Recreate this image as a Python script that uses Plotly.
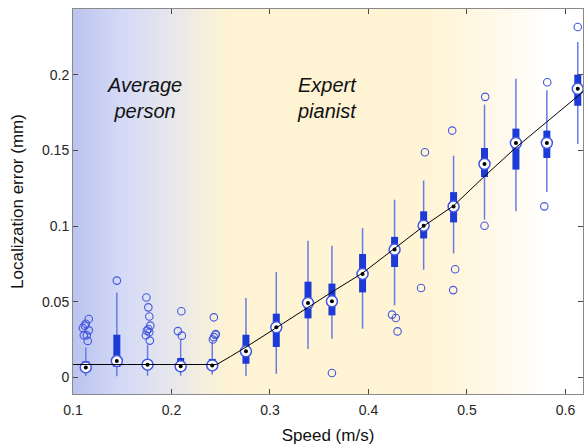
import plotly.graph_objects as go

# Speed groups (m/s) and box statistics of localization error (mm)
speed = [0.113, 0.1445, 0.1757, 0.2093, 0.2414, 0.2756, 0.3064, 0.3386, 0.3629,
         0.394, 0.4265, 0.456, 0.4864, 0.5178, 0.5497, 0.5811, 0.6125]
whisker_low = [0.0007, 0.0007, 0.0011, 0.0011, 0.0018, 0.0009, 0.0024, 0.0188, 0.0256,
               0.0322, 0.0476, 0.0712, 0.0820, 0.1043, 0.1098, 0.1226, 0.1544]
q1 = [0.0040, 0.0069, 0.0062, 0.0051, 0.0058, 0.0090, 0.0201, 0.0390, 0.0410,
      0.0562, 0.0730, 0.0919, 0.1025, 0.1325, 0.1374, 0.1451, 0.1796]
median = [0.0066, 0.0108, 0.0084, 0.0073, 0.0079, 0.0172, 0.0331, 0.0492, 0.0503,
          0.0684, 0.0845, 0.1003, 0.1130, 0.1411, 0.1550, 0.1550, 0.1908]
q3 = [0.0106, 0.0282, 0.0106, 0.0128, 0.0122, 0.0282, 0.0421, 0.0633, 0.0620,
      0.0816, 0.0929, 0.1098, 0.1225, 0.1517, 0.1645, 0.1632, 0.2002]
whisker_high = [0.0198, 0.0562, 0.0216, 0.0250, 0.0238, 0.0525, 0.0697, 0.0904, 0.0871,
                0.0988, 0.1175, 0.1302, 0.1466, 0.1804, 0.1974, 0.1898, 0.2218]

# Outliers (jittered speed, error)
outlier_speed = [0.1160, 0.1130, 0.1100, 0.1120, 0.1160, 0.1110, 0.1140, 0.1150,
                 0.1445,
                 0.1745, 0.1765, 0.1775, 0.1785, 0.1765, 0.1750, 0.1775, 0.1740, 0.1780,
                 0.2100, 0.2065, 0.2105,
                 0.2430, 0.2450, 0.2445, 0.2430, 0.2420,
                 0.3629,
                 0.4239, 0.4278, 0.4295,
                 0.4534, 0.4573,
                 0.4850, 0.4880, 0.4860,
                 0.5185, 0.5178,
                 0.5815, 0.5785,
                 0.6125]
outlier_error = [0.0386, 0.0355, 0.0327, 0.0342, 0.0311, 0.0278, 0.0278, 0.0241,
                 0.0640,
                 0.0528, 0.0463, 0.0403, 0.0342, 0.0320, 0.0309, 0.0298, 0.0279, 0.0243,
                 0.0437, 0.0306, 0.0276,
                 0.0397, 0.0287, 0.0280, 0.0266, 0.0250,
                 0.0029,
                 0.0415, 0.0393, 0.0304,
                 0.0591, 0.1489,
                 0.1632, 0.0715, 0.0577,
                 0.1855, 0.1003,
                 0.1952, 0.1131,
                 0.2317]

# Fitted trend of the error against speed
fit_speed = [0.100, 0.246, 0.2596, 0.2756, 0.3064, 0.3386, 0.3630, 0.3940, 0.4265,
             0.4560, 0.4864, 0.5178, 0.5497, 0.5811, 0.6125, 0.6190]
fit_error = [0.0085, 0.0085, 0.0137, 0.0200, 0.0328, 0.0465, 0.0565, 0.0690, 0.0852,
             0.1000, 0.1135, 0.1330, 0.1520, 0.1690, 0.1865, 0.1895]

# Background shading stops along the speed axis
shade_speed = [0.095, 0.10, 0.15, 0.20, 0.23, 0.26, 0.45, 0.50, 0.55, 0.58, 0.625]
shade_color = ["rgb(188,195,238)", "rgb(188,195,238)", "rgb(212,218,246)",
               "rgb(231,231,236)", "rgb(243,238,222)", "rgb(254,243,211)",
               "rgb(255,244,212)", "rgb(255,246,223)", "rgb(255,251,241)",
               "rgb(255,255,255)", "rgb(255,255,255)"]

X_RANGE = [0.1, 0.6178]
Y_RANGE = [-0.011, 0.2436]

BOX_BLUE = "rgb(28,58,214)"
WHISKER_BLUE = "rgb(104,124,228)"
OUTLIER_BLUE = "rgb(66,86,224)"

fig = go.Figure()

# Background gradient as a smoothed heatmap
lo, hi = shade_speed[0], shade_speed[-1]
scale = [[(s - lo) / (hi - lo), c] for s, c in zip(shade_speed, shade_color)]
grid = [lo + (hi - lo) * i / 200 for i in range(201)]
fig.add_trace(go.Heatmap(
    x=grid, y=[-0.05, 0.30], z=[grid, grid],
    colorscale=scale, zmin=lo, zmax=hi, zsmooth="best",
    showscale=False, hoverinfo="skip"))

def segments(xs, y0s, y1s):
    sx, sy = [], []
    for x, a, b in zip(xs, y0s, y1s):
        sx += [x, x, None]
        sy += [a, b, None]
    return sx, sy

wx, wy = segments(speed, whisker_low, whisker_high)
fig.add_trace(go.Scatter(x=wx, y=wy, mode="lines",
                         line=dict(color=WHISKER_BLUE, width=1.5), hoverinfo="skip"))

bx, by = segments(speed, q1, q3)
fig.add_trace(go.Scatter(x=bx, y=by, mode="lines",
                         line=dict(color=BOX_BLUE, width=7), hoverinfo="skip"))

fig.add_trace(go.Scatter(x=outlier_speed, y=outlier_error, mode="markers",
                         marker=dict(symbol="circle-open", size=7.5,
                                     color=OUTLIER_BLUE, line=dict(width=1.1)),
                         hoverinfo="skip"))

fig.add_trace(go.Scatter(x=speed, y=median, mode="markers",
                         marker=dict(symbol="circle", size=11, color="white",
                                     line=dict(color=OUTLIER_BLUE, width=1.5)),
                         hoverinfo="skip"))

fig.add_trace(go.Scatter(x=fit_speed, y=fit_error, mode="lines",
                         line=dict(color="black", width=1), hoverinfo="skip"))

fig.add_trace(go.Scatter(x=speed, y=median, mode="markers",
                         marker=dict(symbol="circle", size=4, color="black"),
                         hoverinfo="skip"))

label_font = dict(family="Liberation Sans, Arial, sans-serif", size=20, color="#111111")
fig.add_annotation(x=0.1722, y=0.1848, text="<i>Average<br>person</i>",
                   showarrow=False, font=label_font, align="center")
fig.add_annotation(x=0.358, y=0.1848, text="<i>Expert<br>pianist</i>",
                   showarrow=False, font=label_font, align="center")

axis_common = dict(
    showgrid=False, zeroline=False, showline=True, linecolor="#8a8a8a", linewidth=1,
    mirror="ticks", ticks="inside", ticklen=5, tickcolor="#4a4a4a", tickwidth=1,
    tickfont=dict(family="Liberation Sans, Arial, sans-serif", size=14, color="#262626"),
)

fig.update_layout(
    width=584, height=447,
    margin=dict(l=73, r=1, t=9, b=53),
    paper_bgcolor="white", plot_bgcolor="white",
    showlegend=False,
    xaxis=dict(range=X_RANGE, tickvals=[0.1, 0.2, 0.3, 0.4, 0.5, 0.6],
               ticktext=["0.1", "0.2", "0.3", "0.4", "0.5", "0.6"],
               ticklabelstandoff=3,
               title=dict(text="Speed (m/s)", standoff=12,
                          font=dict(family="Liberation Sans, Arial, sans-serif",
                                    size=17, color="#111111")),
               **axis_common),
    yaxis=dict(range=Y_RANGE, tickvals=[0, 0.05, 0.1, 0.15, 0.2],
               ticktext=["0", "0.05", "0.1", "0.15", "0.2"],
               title=dict(text="Localization error (mm)", standoff=14,
                          font=dict(family="Liberation Sans, Arial, sans-serif",
                                    size=17, color="#111111")),
               **axis_common),
)

fig.write_html("out.html")
